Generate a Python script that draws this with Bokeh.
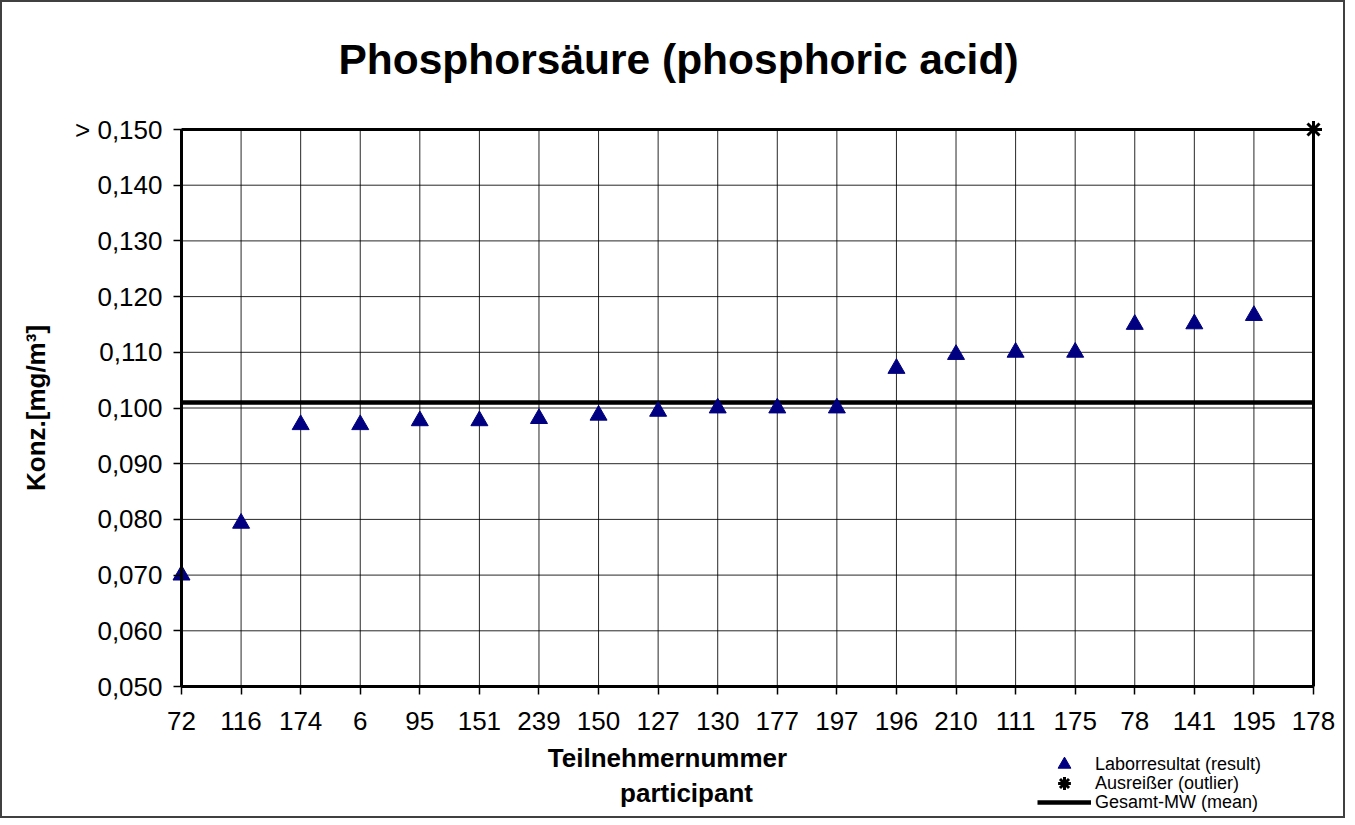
from bokeh.plotting import figure
from bokeh.models import (FixedTicker, CustomJSTickFormatter, Label, Legend, LegendItem,
                          ColumnDataSource, Range1d)
from bokeh.embed import file_html
from bokeh.resources import INLINE

# ---------------- data ----------------
participants = ["72", "116", "174", "6", "95", "151", "239", "150", "127", "130",
                "177", "197", "196", "210", "111", "175", "78", "141", "195", "178"]
results = [0.0700, 0.0793, 0.0970, 0.0970, 0.0977, 0.0977, 0.0981, 0.0987, 0.0994, 0.1000,
           0.1000, 0.1000, 0.1071, 0.1096, 0.1100, 0.1100, 0.1150, 0.1151, 0.1166, None]
outlier_participant = "178"
outlier_value = 0.150          # shown as "> 0,150"
mean_value = 0.1010
y_ticks = [0.050, 0.060, 0.070, 0.080, 0.090, 0.100, 0.110, 0.120, 0.130, 0.140, 0.150]

title_text = "Phosphorsäure (phosphoric acid)"
x_title_1 = "Teilnehmernummer"
x_title_2 = "participant"
y_title = "Konz.[mg/m³]"
legend_labels = ["Laborresultat (result)", "Ausreißer (outlier)", "Gesamt-MW (mean)"]

FONT = "Liberation Sans"

# ---------------- layout (canvas pixels) ----------------
W, H = 1345, 818
PL, PR, PT, PB = 179, 1311, 127, 684   # plot-area edges inside the canvas

idx = list(range(len(participants)))
n = len(participants)
xs = (PR - PL) / (n - 1)
ys = (PB - PT) / (y_ticks[-1] - y_ticks[0])
x_range = Range1d(idx[0] - PL / xs, idx[-1] + (W - PR) / xs)
y_range = Range1d(y_ticks[0] - (H - PB) / ys, y_ticks[-1] + PT / ys)

res_x = [i for i, v in zip(idx, results) if v is not None]
res_y = [v for v in results if v is not None]
out_x = [participants.index(outlier_participant)]
out_y = [outlier_value]

p = figure(width=W, height=H, output_backend="svg", toolbar_location=None,
           x_range=x_range, y_range=y_range,
           min_border_left=0, min_border_right=0, min_border_top=0, min_border_bottom=0)
p.styles = {"border": "2px solid #404040"}
p.background_fill_color = "white"
p.border_fill_color = "white"
p.outline_line_color = None
p.grid.visible = False

# ---------------- grid (from tick arrays) ----------------
p.segment(x0=idx, y0=[y_ticks[0]] * n, x1=idx, y1=[y_ticks[-1]] * n,
          line_color="black", line_width=1, line_alpha=0.85)
p.segment(x0=[idx[0]] * len(y_ticks), y0=y_ticks, x1=[idx[-1]] * len(y_ticks), y1=y_ticks,
          line_color="black", line_width=1, line_alpha=0.85)
# plot-area border (top / right)
p.line([idx[0], idx[-1]], [y_ticks[-1], y_ticks[-1]], line_color="black", line_width=3)
p.line([idx[-1], idx[-1]], [y_ticks[0], y_ticks[-1]], line_color="black", line_width=3)

# ---------------- axes ----------------
xa = p.xaxis[0]
xa.fixed_location = y_ticks[0]
xa.bounds = (idx[0], idx[-1])
xa.ticker = FixedTicker(ticks=idx)
xa.major_label_overrides = {i: lab for i, lab in zip(idx, participants)}
xa.minor_tick_line_color = None
xa.major_tick_in = 0
xa.major_tick_out = 8
xa.major_tick_line_width = 1.5
xa.axis_line_width = 3
xa.major_label_text_font = FONT
xa.major_label_text_font_size = "26px"
xa.major_label_text_color = "black"
xa.major_label_standoff = 17

ya = p.yaxis[0]
ya.fixed_location = idx[0]
ya.bounds = (y_ticks[0], y_ticks[-1])
ya.ticker = FixedTicker(ticks=y_ticks)
ya.formatter = CustomJSTickFormatter(code="""
    const s = tick.toFixed(3).replace('.', ',');
    return tick >= 0.1499 ? '> ' + s : s;
""")
ya.minor_tick_line_color = None
ya.major_tick_in = 0
ya.major_tick_out = 8
ya.major_tick_line_width = 1.5
ya.axis_line_width = 3
ya.major_label_text_font = FONT
ya.major_label_text_font_size = "26px"
ya.major_label_text_color = "black"
ya.major_label_standoff = 11
ya.axis_label = y_title
ya.axis_label_text_font = FONT
ya.axis_label_text_font_size = "26px"
ya.axis_label_text_font_style = "bold"
ya.axis_label_text_color = "black"
ya.axis_label_standoff = 21

# ---------------- glyphs ----------------
r_mean = p.line([idx[0], idx[-1]], [mean_value, mean_value], line_color="black", line_width=4.5)
src = ColumnDataSource(dict(x=res_x, y=res_y))
r_res = p.scatter("x", "y", source=src, marker="triangle", size=17,
                  fill_color="#000080", line_color="#000080")
r_out = p.scatter(out_x, out_y, marker="asterisk", size=17, line_color="black", line_width=3)

# legend: one single-item legend per row so that markers can be large while rows stay tight
legend_rows = [(legend_labels[0], r_res, 40), (legend_labels[1], r_out, 21), (legend_labels[2], r_mean, 2)]
for lab, rend, ly in legend_rows:
    lg = Legend(items=[LegendItem(label=lab, renderers=[rend])],
                location=(1035, ly), orientation="vertical",
                padding=0, margin=0, spacing=0,
                label_height=19, glyph_height=32, glyph_width=54, label_standoff=4,
                label_text_font=FONT, label_text_font_size="18px", label_text_color="black",
                border_line_color=None, background_fill_alpha=0)
    p.add_layout(lg, "center")

# ---------------- texts (screen units, canvas) ----------------
p.add_layout(Label(x=676, y=761, x_units="screen", y_units="screen", text=title_text,
                   text_font=FONT, text_font_size="42.5px", text_font_style="bold",
                   text_align="center", text_baseline="middle", text_color="black"))
p.add_layout(Label(x=665, y=63, x_units="screen", y_units="screen", text=x_title_1,
                   text_font=FONT, text_font_size="26px", text_font_style="bold",
                   text_align="center", text_baseline="middle", text_color="black"))
p.add_layout(Label(x=684, y=28, x_units="screen", y_units="screen", text=x_title_2,
                   text_font=FONT, text_font_size="26px", text_font_style="bold",
                   text_align="center", text_baseline="middle", text_color="black"))

open("out.html", "w").write(file_html(p, INLINE))
